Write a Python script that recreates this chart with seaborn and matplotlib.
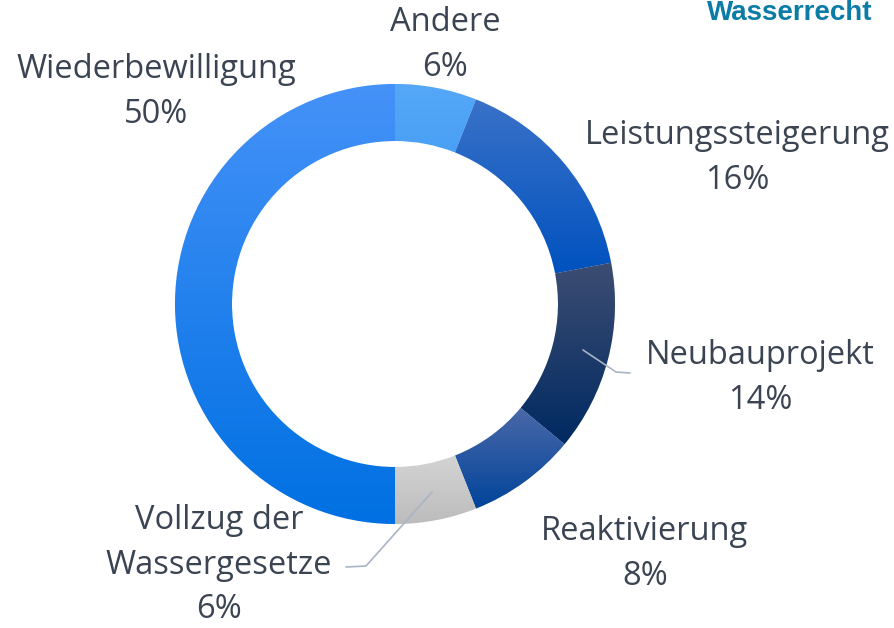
import numpy as np
import matplotlib
matplotlib.use("Agg")
import matplotlib.pyplot as plt
from matplotlib.colors import LinearSegmentedColormap
import seaborn as sns

# Anteile der Verfahren (Uhrzeigersinn ab 12 Uhr)
kategorien = ["Andere", "Leistungssteigerung", "Neubauprojekt", "Reaktivierung",
              "Vollzug der\nWassergesetze", "Wiederbewilligung"]
anteile = [6, 16, 14, 8, 6, 50]
farben_oben = ["#55a8f8", "#3a72c8", "#3d4d72", "#4a68a8", "#d4d4d4", "#4592f8"]
farben_unten = ["#4aa0f5", "#0052bf", "#002a62", "#00449a", "#bcbcbc", "#0070e2"]
titel = "Wasserrecht"

sns.set_theme(style="white")
plt.rcParams["font.family"] = ["Open Sans", "DejaVu Sans"]

W, H = 894, 628
fig = plt.figure(figsize=(W / 100, H / 100), dpi=100)
ax = fig.add_axes([0, 0, 1, 1])

cx, cy, r_out, ring = 395, H - 304, 220, 57
wedges, _ = ax.pie(anteile, startangle=90, counterclock=False, center=(cx, cy),
                   radius=r_out, colors=farben_unten, frame=True,
                   wedgeprops=dict(width=ring, edgecolor="white", linewidth=0.6))

# vertikaler Verlauf je Segment
grad = np.linspace(1, 0, 256)[:, None]
for w, c1, c2 in zip(wedges, farben_oben, farben_unten):
    bb = w.get_path().get_extents()
    cmap = LinearSegmentedColormap.from_list("g", [c1, c2])
    im = ax.imshow(grad, cmap=cmap, extent=(bb.x0, bb.x1, bb.y0, bb.y1),
                   origin="lower", aspect="auto", zorder=w.get_zorder() + 0.1)
    im.set_clip_path(w)

ax.set_xlim(0, W)
ax.set_ylim(0, H)
ax.axis("off")

label_pos = [(445, 45), (737, 158), (760, 378), (645, 554), (219, 565), (156, 92)]
txt = "#3b4452"
for k, a, (x, y) in zip(kategorien, anteile, label_pos):
    ax.text(x, H - y, f"{k}\n{a}%", ha="center", va="center", fontsize=23.5,
            color=txt, linespacing=1.47, multialignment="center")

# Führungslinien
lc = "#a9b4c4"
ax.plot([583, 616, 630], [H - 350, H - 372, H - 373], color=lc, lw=1.2)
ax.plot([432, 366, 346], [H - 492, H - 566, H - 567], color=lc, lw=1.2)

ax.text(707, H - 20, titel, ha="left", va="baseline", fontsize=20,
        fontweight="bold", color="#0a7ca6", family="Liberation Sans")

fig.savefig("out.png", dpi=100)
